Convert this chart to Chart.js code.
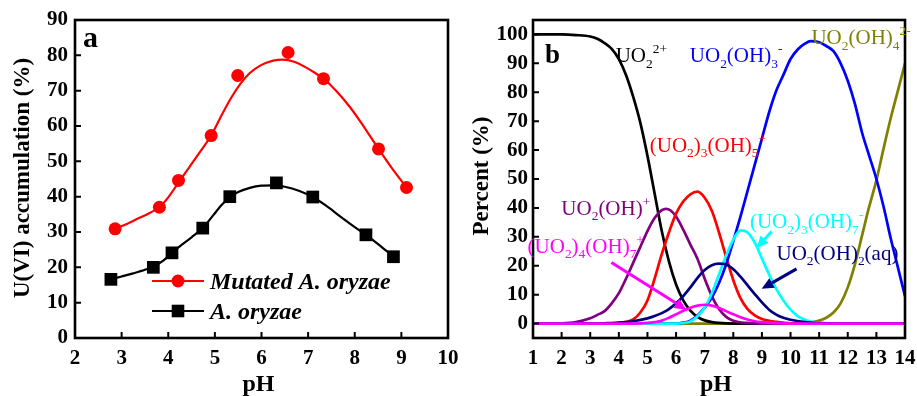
<!DOCTYPE html>
<html><head><meta charset="utf-8">
<script src="https://cdn.jsdelivr.net/npm/chart.js@4.4.0/dist/chart.umd.min.js"></script>
<style>
html,body{margin:0;padding:0;background:#fff;width:917px;height:396px;overflow:hidden}
canvas{position:absolute;top:0}
#ca{left:0}#cb{left:460px}
</style></head><body>
<canvas id="ca" width="460" height="396"></canvas>
<canvas id="cb" width="457" height="396"></canvas>
<script>
// ---------- Panel a data ----------
const xTicksA = [2,3,4,5,6,7,8,9,10];
const yTicksA = [0,10,20,30,40,50,60,70,80,90];
const phMutated  = [2.86,3.81,4.22,4.92,5.49,6.57,7.33,8.51,9.11];
const accMutated = [30.9,37.0,44.6,57.3,74.3,80.8,73.4,53.5,42.6];
const phWild  = [2.77,3.68,4.08,4.74,5.32,6.32,7.10,8.24,8.83];
const accWild = [16.6,20.0,24.1,31.1,40.0,43.9,39.9,29.2,23.0];
const fitPhMutated = [2.86,3.1,3.35,3.6,3.81,4.0,4.22,4.45,4.7,4.92,5.15,5.35,5.55,5.75,6.0,6.25,6.45,6.7,6.95,7.15,7.33,7.6,7.9,8.2,8.51,8.8,9.11];
const fitMutated   = [30.9,32.2,33.8,35.4,37.0,39.8,44.0,48.3,53.0,57.3,63.2,68.0,72.0,75.0,77.3,78.5,78.8,78.2,76.6,75.0,73.4,70.0,65.3,59.7,53.5,48.0,42.6];
const fitPhWild = [2.77,3.0,3.25,3.5,3.68,3.9,4.08,4.3,4.5,4.74,4.95,5.15,5.32,5.5,5.75,6.0,6.25,6.5,6.8,7.1,7.4,7.7,8.0,8.24,8.5,8.83];
const fitWild   = [16.6,17.4,18.3,19.3,20.2,22.0,24.1,26.5,28.5,31.1,34.5,37.7,39.8,41.3,42.5,43.1,43.2,42.8,41.7,39.9,37.3,34.3,31.4,29.2,26.6,23.0];
const legendA = ['Mutated A. oryzae','A. oryzae'];

// ---------- Panel b data ----------
const xTicksB = [1,2,3,4,5,6,7,8,9,10,11,12,13,14];
const yTicksB = [0,10,20,30,40,50,60,70,80,90,100];
const phUO2 = [1,2,2.5,3,3.25,3.5,3.75,4,4.25,4.5,4.75,5,5.25,5.5,5.75,6,6.25,6.5,6.75,7,7.25,7.5,8,14];
const pcUO2 = [100,100,99.8,99.3,98.5,97,95,91.5,86,78.5,69.5,58,45,32,21.5,13.5,8,4.5,2.3,1.1,0.5,0.2,0,0];
const phUO2OH = [1,2,2.5,3,3.25,3.5,3.75,4,4.25,4.5,4.75,5,5.25,5.5,5.65,5.8,6,6.25,6.5,6.75,7,7.25,7.5,7.75,8,8.5,9,14];
const pcUO2OH = [0,0.1,0.5,1.8,3,4.3,7,10.5,15.5,21,26.5,32,36.5,39.2,39.7,39.2,37,32.5,27.3,22.3,15.5,9.5,5,2.3,1,0.2,0,0];
const phU3OH5 = [1,3.5,4,4.25,4.5,4.75,5,5.25,5.5,5.75,6,6.25,6.5,6.75,7,7.25,7.5,7.75,8,8.25,8.5,8.75,9,9.5,10,14];
const pcU3OH5 = [0,0,0.2,0.6,1.4,3.8,8,15.5,24,31.5,38,42.2,44.7,45.6,43.5,39,31.5,23,15,8.8,5,2.8,1.6,0.6,0.1,0];
const phUO2OH3 = [1,6,6.25,6.5,6.75,7,7.25,7.5,7.75,8,8.25,8.5,8.75,9,9.25,9.5,9.75,10,10.25,10.5,10.7,11,11.25,11.5,11.75,12,12.25,12.5,12.75,13,13.25,13.5,13.75,14];
const pcUO2OH3 = [0,0,0.3,1,2.8,5.5,9,14,20.5,28.5,37,46,55,64,73,80.5,86,91.5,94.8,96.8,97.7,97.3,96,94.2,90,84,76,66,58,50,40.5,29.5,19.5,9.5];
const phUO2OH4 = [1,10,10.5,10.75,11,11.25,11.5,11.75,12,12.25,12.5,12.75,13,13.25,13.5,13.75,14];
const pcUO2OH4 = [0,0,0.2,0.5,1,2,3.8,7,12.5,20.5,30.5,40.5,49.5,60.5,71,80.5,90];
const phU3OH7 = [1,6,6.25,6.5,6.75,7,7.25,7.5,7.75,8,8.25,8.5,8.75,9,9.25,9.5,9.75,10,10.25,10.5,10.75,11,11.5,14];
const pcU3OH7 = [0,0,0.2,0.7,2.5,5.5,10.5,17,23.5,29,32.2,31.5,28,22.5,17,12,8,4.8,2.6,1.3,0.6,0.25,0,0];
const phUO2OH2 = [1,3,3.5,4,4.5,5,5.25,5.5,5.75,6,6.25,6.5,6.75,7,7.25,7.5,7.7,8,8.25,8.5,8.75,9,9.25,9.5,9.75,10,10.5,11,11.5,14];
const pcUO2OH2 = [0,0,0.1,0.3,0.8,1.8,2.6,3.6,5,7,9.5,12.5,15.8,18.5,20.2,20.7,20.6,18.8,16.2,13.2,10.2,7.3,4.8,3.1,2,1.3,0.5,0.15,0,0];
const phU4OH7 = [1,4.5,5,5.25,5.5,5.75,6,6.25,6.5,6.75,7,7.25,7.5,7.75,8,8.25,8.5,8.75,9,9.5,10,14];
const pcU4OH7 = [0,0,0.2,0.5,1,2,3.2,4.4,5.5,6.2,6.5,6.2,5.4,4.3,3.2,2.2,1.4,0.8,0.5,0.15,0,0];

const zip = (xs, ys) => xs.map((x, i) => ({x, y: ys[i]}));
const SERIF = '"Liberation Serif","Times New Roman",serif';

// species labels: text parts ('n' normal, 'b' subscript, 'p' superscript)
const speciesB = [
  {parts:[['UO','n'],['2','b'],['2+','p']], color:'#000000', at:[3.89,90.4]},
  {parts:[['UO','n'],['2','b'],['(OH)','n'],['3','b'],['-','p']], color:'#0000ff', at:[6.48,90.4]},
  {parts:[['UO','n'],['2','b'],['(OH)','n'],['4','b'],['2-','p']], color:'#808000', at:[10.73,96.6]},
  {parts:[['(UO','n'],['2','b'],[')','n'],['3','b'],['(OH)','n'],['5','b'],['+','p']], color:'#ff0000', at:[5.08,59.4]},
  {parts:[['UO','n'],['2','b'],['(OH)','n'],['+','p']], color:'#800080', at:[1.99,37.6]},
  {parts:[['(UO','n'],['2','b'],[')','n'],['4','b'],['(OH)','n'],['7','b'],['+','p']], color:'#ff00ff', at:[0.81,24.4]},
  {parts:[['(UO','n'],['2','b'],[')','n'],['3','b'],['(OH)','n'],['7','b'],['-','p']], color:'#00ffff', at:[8.58,33.0]},
  {parts:[['UO','n'],['2','b'],['(OH)','n'],['2','b'],['(aq)','n']], color:'#000080', at:[9.51,22.1]}
];
const arrowsB = [
  {from:[3.74,21.1], to:[6.36,4.8], color:'#ff00ff'},
  {from:[9.34,31.8], to:[8.81,26.1], color:'#00ffff'},
  {from:[10.21,18.9], to:[8.99,12.0], color:'#000080'}
];

function drawRich(ctx, x, y, parts, size, color) {
  ctx.save();
  ctx.fillStyle = color; ctx.textBaseline = 'alphabetic'; ctx.textAlign = 'left';
  let cx = x;
  for (const [t, m] of parts) {
    let fs = size, dy = 0;
    if (m === 'b') { fs = size * 0.64; dy = size * 0.26; }
    if (m === 'p') { fs = size * 0.64; dy = -size * 0.44; }
    ctx.font = fs + 'px ' + SERIF;
    ctx.fillText(t, cx, y + dy);
    cx += ctx.measureText(t).width;
  }
  ctx.restore();
}

function arrow(ctx, x1, y1, x2, y2, color) {
  const ang = Math.atan2(y2 - y1, x2 - x1);
  const L = 12, W = 5.5;
  const bx = x2 - L * Math.cos(ang), by = y2 - L * Math.sin(ang);
  ctx.save();
  ctx.strokeStyle = color; ctx.fillStyle = color; ctx.lineWidth = 3;
  ctx.beginPath(); ctx.moveTo(x1, y1); ctx.lineTo(bx, by); ctx.stroke();
  ctx.beginPath();
  ctx.moveTo(x2, y2);
  ctx.lineTo(bx + W * Math.sin(ang), by - W * Math.cos(ang));
  ctx.lineTo(bx - W * Math.sin(ang), by + W * Math.cos(ang));
  ctx.closePath(); ctx.fill();
  ctx.restore();
}

function decor(cfg) {
  return {
    id: 'decor',
    afterDraw(chart) {
      const ctx = chart.ctx, a = chart.chartArea;
      const xs = chart.scales.x, ys = chart.scales.y;
      ctx.save();
      ctx.strokeStyle = '#000'; ctx.lineWidth = 2;
      ctx.beginPath();
      cfg.xTicks.forEach(v => { const p = xs.getPixelForValue(v); ctx.moveTo(p, a.bottom); ctx.lineTo(p, a.bottom - 6); });
      cfg.yTicks.forEach(v => { const p = ys.getPixelForValue(v); ctx.moveTo(a.left, p); ctx.lineTo(a.left + 6, p); });
      ctx.stroke();
      ctx.lineWidth = 2.6;
      ctx.strokeRect(a.left, a.top, a.right - a.left, a.bottom - a.top);
      ctx.fillStyle = '#000';
      ctx.font = 'bold ' + cfg.letterSize + 'px ' + SERIF;
      ctx.textAlign = 'left'; ctx.textBaseline = 'alphabetic';
      ctx.fillText(cfg.letter, a.left + cfg.letterDx, a.top + cfg.letterDy);
      ctx.font = 'bold 24px ' + SERIF;
      ctx.textAlign = 'center';
      ctx.fillText('pH', (a.left + a.right) / 2 - 3, 391);
      ctx.save();
      ctx.translate(cfg.yTitleX, cfg.yTitleY);
      ctx.rotate(-Math.PI / 2);
      ctx.font = 'bold 23px ' + SERIF;
      ctx.textBaseline = 'middle';
      ctx.fillText(cfg.yTitle, 0, 0);
      ctx.restore();
      if (cfg.extra) cfg.extra(chart, ctx, xs, ys);
      ctx.restore();
    }
  };
}

function scaleOpts(min, max, ticks, fitW, fitH, pad) {
  return {
    type: 'linear', min, max,
    grid: {display: false, drawTicks: false, tickLength: 0},
    border: {display: false},
    ticks: {autoSkip: false, maxRotation: 0, padding: pad, color: '#000',
            font: {family: SERIF, size: 21, weight: 'bold'}},
    afterBuildTicks: s => { s.ticks = ticks.map(v => ({value: v})); },
    afterFit: s => {
      if (fitW) s.width = fitW;
      if (fitH) s.height = fitH;
      s.paddingLeft = 0; s.paddingRight = 0; s.paddingTop = 0; s.paddingBottom = 0;
    }
  };
}

// ---------- Chart a ----------
new Chart(document.getElementById('ca'), {
  type: 'line',
  data: {datasets: [
    {data: zip(phMutated, accMutated), showLine: false, pointRadius: 6.5, pointHoverRadius: 6.5,
     pointBackgroundColor: '#ff0000', pointBorderColor: '#ff0000', pointBorderWidth: 0},
    {data: zip(phWild, accWild), showLine: false, pointStyle: 'rect', pointRadius: 9, pointHoverRadius: 9,
     pointBackgroundColor: '#000', pointBorderColor: '#000', pointBorderWidth: 0},
    {data: zip(fitPhMutated, fitMutated), borderColor: '#ff0000', borderWidth: 2.2, pointRadius: 0,
     cubicInterpolationMode: 'monotone', fill: false},
    {data: zip(fitPhWild, fitWild), borderColor: '#000', borderWidth: 2.2, pointRadius: 0,
     cubicInterpolationMode: 'monotone', fill: false}
  ]},
  options: {
    responsive: false, animation: false, devicePixelRatio: 1,
    layout: {padding: {top: 20, right: 12, left: 0, bottom: 0}},
    plugins: {legend: {display: false}, tooltip: {enabled: false}},
    scales: {
      x: scaleOpts(2, 10, xTicksA, 0, 58, 8),
      y: scaleOpts(0, 90, yTicksA, 75, 0, 7)
    }
  },
  plugins: [decor({
    xTicks: xTicksA, yTicks: yTicksA, letter: 'a', letterSize: 30, letterDx: 8, letterDy: 27,
    yTitle: 'U(VI) accumulation (%)', yTitleX: 23, yTitleY: 178,
    extra(chart, ctx) {
      const rows = [{y: 281, color: '#ff0000', shape: 'circle'}, {y: 311, color: '#000', shape: 'rect'}];
      rows.forEach((r, i) => {
        ctx.strokeStyle = r.color; ctx.fillStyle = r.color; ctx.lineWidth = 2.2;
        ctx.beginPath(); ctx.moveTo(152, r.y); ctx.lineTo(204, r.y); ctx.stroke();
        ctx.beginPath();
        if (r.shape === 'circle') ctx.arc(178, r.y, 6.5, 0, Math.PI * 2);
        else ctx.rect(178 - 6.3, r.y - 6.3, 12.6, 12.6);
        ctx.fill();
        ctx.fillStyle = '#000';
        ctx.font = 'italic bold 24px ' + SERIF;
        ctx.textAlign = 'left'; ctx.textBaseline = 'alphabetic';
        ctx.fillText(legendA[i], 210, r.y + 8);
      });
    }
  })]
});

// ---------- Chart b ----------
const lineDs = (xs, ys, color) => ({data: zip(xs, ys), borderColor: color, borderWidth: 2.7, pointRadius: 0,
  cubicInterpolationMode: 'monotone', fill: false});
new Chart(document.getElementById('cb'), {
  type: 'line',
  data: {datasets: [
    lineDs(phU4OH7, pcU4OH7, '#ff00ff'),
    lineDs(phUO2OH2, pcUO2OH2, '#000080'),
    lineDs(phU3OH7, pcU3OH7, '#00ffff'),
    lineDs(phUO2OH3, pcUO2OH3, '#0000ff'),
    lineDs(phU3OH5, pcU3OH5, '#ff0000'),
    lineDs(phUO2OH, pcUO2OH, '#800080'),
    lineDs(phUO2, pcUO2, '#000000'),
    lineDs(phUO2OH4, pcUO2OH4, '#808000')
  ]},
  options: {
    responsive: false, animation: false, devicePixelRatio: 1,
    layout: {padding: {top: 20, right: 12, left: 0, bottom: 0}},
    plugins: {legend: {display: false}, tooltip: {enabled: false}},
    scales: {
      x: scaleOpts(1, 14, xTicksB, 0, 58, 8),
      y: scaleOpts(-5, 105, yTicksB, 73, 0, 5)
    }
  },
  plugins: [decor({
    xTicks: xTicksB, yTicks: yTicksB, letter: 'b', letterSize: 27, letterDx: 12, letterDy: 43,
    yTitle: 'Percent (%)', yTitleX: 22, yTitleY: 176,
    extra(chart, ctx, xs, ys) {
      speciesB.forEach(s => drawRich(ctx, xs.getPixelForValue(s.at[0]), ys.getPixelForValue(s.at[1]), s.parts, 21, s.color));
      arrowsB.forEach(r => arrow(ctx, xs.getPixelForValue(r.from[0]), ys.getPixelForValue(r.from[1]),
        xs.getPixelForValue(r.to[0]), ys.getPixelForValue(r.to[1]), r.color));
    }
  })]
});
</script>
</body></html>
